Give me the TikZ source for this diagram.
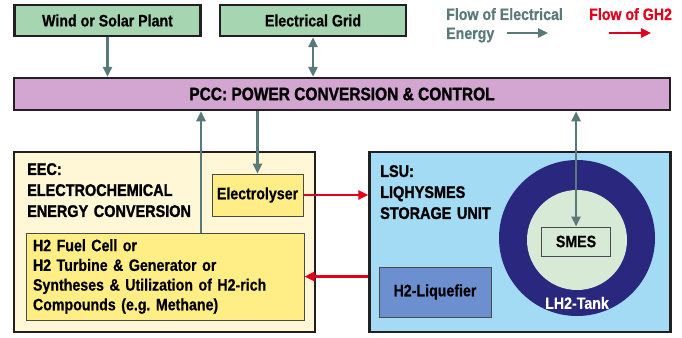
\documentclass[tikz,border=0pt]{standalone}
\usepackage{fontspec}
\setmainfont{Liberation Sans}[FakeStretch=0.86, BoldFeatures={FakeBold=0.5}]
\newfontfamily\heavyfamily{Liberation Sans}[FakeStretch=0.86, BoldFeatures={FakeBold=1.4}]
\usepackage{tikz}
\usetikzlibrary{arrows.meta,positioning,calc}
\usepackage{xcolor}
\definecolor{framedark}{HTML}{231F20}
\definecolor{partedge}{HTML}{4A4A4A}
\definecolor{plantgreen}{HTML}{A6D5B1}
\definecolor{pcclilac}{HTML}{D2A6D0}
\definecolor{eeccream}{HTML}{FFF7D6}
\definecolor{partyellow}{HTML}{FFED85}
\definecolor{lsublue}{HTML}{A3DAF4}
\definecolor{liqblue}{HTML}{6C8FCF}
\definecolor{tanknavy}{HTML}{29287E}
\definecolor{tankcore}{HTML}{D6EAD6}
\definecolor{elecgrey}{HTML}{5A7A7A}
\definecolor{gh2red}{HTML}{E2001A}

\begin{document}
\begin{tikzpicture}[
  x=1pt, y=-1pt,
  font=\fontsize{16.5}{20}\selectfont\bfseries,
  >={Triangle[length=10pt,width=9pt]},
  sourcebox/.style={
    draw=framedark,
    fill=plantgreen,
    line width=2.5pt,
    minimum width=186pt,
    minimum height=31pt,
    inner sep=0pt
  },
  unitbox/.style={
    draw=framedark,
    line width=2.5pt,
    minimum width=301pt,
    minimum height=180pt,
    inner sep=0pt
  },
  partbox/.style={
    draw=partedge,
    line width=1pt,
    inner sep=0pt
  },
  headtext/.style={
    font=\heavyfamily\fontsize{16.8}{21}\selectfont\bfseries,
    text width=180pt,
    align=left,
    inner sep=0pt
  },
  elecflow/.style={line width=2.4pt, elecgrey},
  gh2flow/.style={line width=2.4pt, gh2red}
]
  \useasboundingbox (0,0) rectangle (682,337);

  % --- TOP ROW: Sources ---
  \node[sourcebox] (wind) at (107.5,20.5) {Wind or Solar Plant};
  \node[sourcebox, right=17pt of wind] (grid) {Electrical Grid};

  % Legend
  \node[text=elecgrey, anchor=base west, inner sep=0pt] (legelec) at (446,20) {Flow of Electrical};
  \node[text=elecgrey, anchor=base west, inner sep=0pt] (legenergy) at (446,39) {Energy};
  \node[text=gh2red, anchor=base west, inner sep=0pt] (leggh2) at (589,20) {Flow of GH2};
  \coordinate (elecA) at (507,33);
  \coordinate (elecB) at (548,33);
  \coordinate (gh2A) at (609,33);
  \coordinate (gh2B) at (651,33);

  % --- PCC ---
  \node[sourcebox, fill=pcclilac, minimum width=656pt, minimum height=32pt,
        font=\heavyfamily\fontsize{18}{21}\selectfont\bfseries] (pcc) at (342,94) {PCC: POWER CONVERSION \& CONTROL};

  % --- LOWER ROW: EEC ---
  \node[unitbox, fill=eeccream] (eec) at (164.5,242) {};
  \node[headtext, anchor=north west] (eectitle) at (27,163) {EEC:\\ELECTROCHEMICAL\\ENERGY CONVERSION};
  \node[partbox, fill=partyellow, minimum width=91pt, minimum height=42pt] (electrolyser) at (257.5,195) {Electrolyser};
  \node[partbox, fill=partyellow, text width=264pt, align=left, minimum height=87pt, inner xsep=7pt,
        font=\fontsize{16.5}{19.7}\selectfont\bfseries] (fuel) at (165,276.5) {
    H2 Fuel Cell or\\
    H2 Turbine \& Generator or\\
    Syntheses \& Utilization of H2-rich\\
    Compounds (e.g.\ Methane)
  };

  % --- LOWER ROW: LSU ---
  \node[unitbox, fill=lsublue, right=52pt of eec] (lsu) {};
  \node[headtext, anchor=north west] (lsutitle) at (380,165) {LSU:\\LIQHYSMES\\STORAGE UNIT};
  \node[partbox, fill=liqblue, minimum width=112pt, minimum height=50pt] (liquefier) at (435,292) {H2-Liquefier};
  \node[circle, fill=tanknavy, minimum size=156pt, inner sep=0pt] (tank) at (577,238) {};
  \node[circle, fill=tankcore, minimum size=100pt, inner sep=0pt] (core) at (577,240) {};
  \node[partbox, fill=tankcore, minimum width=69pt, minimum height=29pt] (smes) at (576,241.5) {SMES};
  \node[text=white, inner sep=0pt] (tanklabel) at (577,303) {LH2-Tank};

  % Connecting Arrows
  \draw[->, elecflow] (wind.south) -- (wind.south |- pcc.north);
  \draw[<->, elecflow] (grid.south) -- (grid.south |- pcc.north);
  \draw[->, elecflow] ([xshift=36pt]fuel.north) -- ([xshift=36pt]fuel.north |- pcc.south);
  \draw[->, elecflow] (pcc.south -| electrolyser.north) -- (electrolyser.north);
  \draw[<->, elecflow] (pcc.south -| smes.north) -- (smes.north);
  \draw[->, gh2flow] (electrolyser.east) -- (electrolyser.east -| lsu.west);
  \draw[->, gh2flow] (lsu.west |- fuel.east) -- (fuel.east);
  \draw[->, elecflow] (elecA) -- (elecB);
  \draw[->, gh2flow] (gh2A) -- (gh2B);

\end{tikzpicture}
\end{document}
